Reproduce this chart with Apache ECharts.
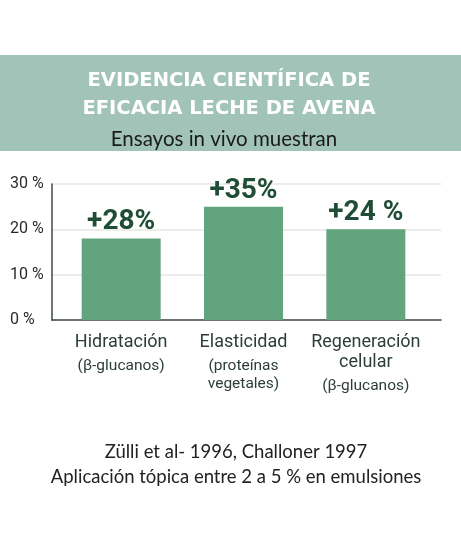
<!DOCTYPE html>
<html>
<head>
<meta charset="utf-8">
<script src="https://cdn.jsdelivr.net/npm/echarts@6/dist/echarts.min.js"></script>
<style>
  html, body { margin: 0; padding: 0; background: #fff; }
  #chart { width: 461px; height: 553px; }
</style>
</head>
<body>
<div id="chart"></div>
<script>
// datos del gráfico
const categorias = ['Hidratación', 'Elasticidad', 'Regeneración\ncelular']
const subtitulos = ['(β-glucanos)', '(proteínas\nvegetales)', '(β-glucanos)']
const valores = [18, 25, 20]
const etiquetas = ['+28%', '+35%', '+24 %']
const ticksY = [0, 10, 20, 30]

const chart = echarts.init(document.getElementById('chart'))

// texto de cada categoría: nombre + línea pequeña de separación + subtítulo
function textoCategoria(nombre, i) {
  const principal = nombre.split('\n').map(t => `{a|${t}}`).join('\n')
  const sub = subtitulos[i].split('\n').map(t => `{b|${t}}`).join('\n')
  return `${principal}\n{s| }\n${sub}`
}

const option = {
  backgroundColor: '#ffffff',
  graphic: [
    {
      type: 'rect',
      shape: { x: 0, y: 55, width: 461, height: 96 },
      style: { fill: '#a2c3b7' },
      z: -1
    },
    {
      type: 'text',
      x: 229,
      y: 67,
      style: {
        text: 'EVIDENCIA CIENTÍFICA DE\nEFICACIA LECHE DE AVENA',
        fill: '#ffffff',
        font: 'bold 19.5px "DejaVu Sans"',
        lineHeight: 28,
        align: 'center',
        verticalAlign: 'top'
      }
    },
    {
      type: 'text',
      x: 224,
      y: 129,
      style: {
        text: 'Ensayos in vivo muestran',
        fill: '#1a1a1a',
        font: '20.5px Lato',
        align: 'center',
        verticalAlign: 'top'
      }
    },
    {
      type: 'text',
      x: 236,
      y: 440,
      style: {
        text: 'Zülli et al- 1996, Challoner 1997\nAplicación tópica entre 2 a 5 % en emulsiones',
        fill: '#222222',
        font: '18.5px Lato',
        lineHeight: 25,
        align: 'center',
        verticalAlign: 'top'
      }
    }
  ],
  grid: [
    { left: 52, right: 20, top: 184, bottom: 233 },
    { left: 60, right: 34, top: 184, bottom: 233 }
  ],
  xAxis: [
    {
      type: 'category',
      gridIndex: 0,
      data: categorias,
      axisLine: { lineStyle: { color: '#3d4a44', width: 1.5 } },
      axisTick: { show: false },
      axisLabel: { show: false }
    },
    {
      type: 'category',
      gridIndex: 1,
      data: categorias,
      axisLine: { show: false },
      axisTick: { show: false },
      axisLabel: {
        margin: 12,
        formatter: (v, i) => textoCategoria(v, i),
        rich: {
          a: { fontFamily: 'Roboto', fontSize: 18, color: '#2d3f35', lineHeight: 20, align: 'center' },
          s: { fontSize: 4, lineHeight: 5 },
          b: { fontFamily: 'Roboto', fontSize: 15.5, color: '#2d3f35', lineHeight: 18, align: 'center' }
        }
      }
    }
  ],
  yAxis: [
    {
      type: 'value',
      gridIndex: 0,
      min: ticksY[0],
      max: ticksY[ticksY.length - 1],
      interval: 10,
      axisLine: { show: true, lineStyle: { color: '#3d4a44', width: 1.5 } },
      axisTick: { show: false },
      axisLabel: {
        margin: 42,
        align: 'left',
        fontFamily: 'Roboto',
        fontSize: 16,
        color: '#2a2a2a',
        formatter: v => `${v} %`
      },
      splitLine: { lineStyle: { color: '#e6e6e6', width: 1.5 } }
    },
    {
      type: 'value',
      gridIndex: 1,
      min: ticksY[0],
      max: ticksY[ticksY.length - 1],
      show: false,
      splitLine: { show: false }
    }
  ],
  series: [
    {
      type: 'bar',
      xAxisIndex: 1,
      yAxisIndex: 1,
      data: valores,
      barWidth: 79,
      itemStyle: { color: '#62a47e' },
      label: {
        show: true,
        position: 'top',
        distance: 2,
        formatter: p => etiquetas[p.dataIndex],
        fontFamily: 'Roboto',
        fontWeight: 'bold',
        fontSize: 28,
        color: '#1f4d36'
      }
    }
  ]
}

chart.setOption(option)
</script>
</body>
</html>
